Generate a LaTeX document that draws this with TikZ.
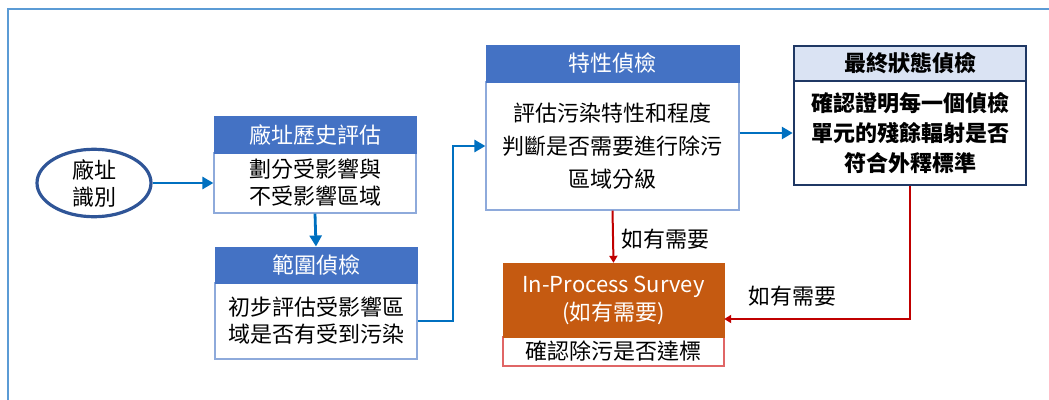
\documentclass[tikz,border=0pt]{standalone}
\usepackage{fontspec}
\setmainfont{Noto Sans CJK TC}
\usetikzlibrary{arrows.meta,shapes.geometric}
\definecolor{hdrblue}{HTML}{4472C4}
\definecolor{bodyblue}{HTML}{8EAADB}
\definecolor{navy}{HTML}{1F3864}
\definecolor{lightnavy}{HTML}{DAE3F3}
\definecolor{arrblue}{HTML}{0070C0}
\definecolor{ellblue}{HTML}{2F5597}
\definecolor{framec}{HTML}{5B9BD5}
\definecolor{darkred}{HTML}{C00000}
\definecolor{orangebrown}{HTML}{C55A11}
\definecolor{lightred}{HTML}{E06666}
\newcommand\fsz{\fontsize{22}{27}\selectfont}
\begin{document}
\begin{tikzpicture}[x=1pt,y=-1pt,
  boxbase/.style={rectangle, inner sep=0pt, align=center, font=\fsz},
  bhead/.style={boxbase, fill=hdrblue, draw=hdrblue, text=white, line width=1pt},
  bbody/.style={boxbase, fill=white, draw=bodyblue, line width=1.2pt},
  bluearrow/.style={draw=arrblue, line width=2.8pt, -{Triangle[length=11pt,width=12pt]}},
  redarrow/.style={draw=darkred, line width=2pt, -{Triangle[length=7pt,width=8pt]}},
  lbl/.style={font=\fsz, inner sep=0pt}
]
\useasboundingbox (0,0) rectangle (1049,399);
\draw[framec, line width=1.5pt] (8,410) -- (8,9) -- (1060,9);

% ellipse
\node[ellipse, draw=ellblue, line width=3.2pt, minimum width=114pt, minimum height=65pt, inner sep=0pt, align=center, font=\fsz] (ell) at (94,183) {廠址\\識別};

% box 1
\node[bbody, minimum width=202pt, minimum height=60pt] (b1body) at (315,183) {劃分受影響與\\不受影響區域};
\node[bhead, minimum width=202pt, minimum height=37pt] (b1head) at (315,134.5) {廠址歷史評估};

% box 2
\node[bbody, minimum width=202pt, minimum height=76pt] (b2body) at (316,321) {初步評估受影響區\\域是否有受到污染};
\node[bhead, minimum width=202pt, minimum height=36pt] (b2head) at (316,265) {範圍偵檢};

% box 3
\node[bbody, minimum width=253pt, minimum height=128pt, font=\fontsize{22}{33}\selectfont] (b3body) at (612.5,146) {評估污染特性和程度\\判斷是否需要進行除污\\區域分級};
\node[bhead, minimum width=253pt, minimum height=37pt] (b3head) at (612.5,63.5) {特性偵檢};

% box 4
\node[boxbase, fill=white, draw=navy, line width=2.5pt, minimum width=232pt, minimum height=104pt, font=\fontsize{22}{30}\selectfont\bfseries] (b4body) at (910,133) {確認證明每一個偵檢\\單元的殘餘輻射是否\\符合外釋標準};
\node[boxbase, fill=lightnavy, draw=navy, line width=2.5pt, minimum width=232pt, minimum height=35pt, font=\fsz\bfseries] (b4head) at (910,63.5) {最終狀態偵檢};

% box 5
\node[boxbase, fill=white, draw=lightred, line width=1.2pt, minimum width=221pt, minimum height=29pt] (b5body) at (613.5,351.5) {確認除污是否達標};
\node[boxbase, fill=orangebrown, draw=orangebrown, text=white, minimum width=221pt, minimum height=74pt, font=\fontsize{22}{28}\selectfont] (b5head) at (613.5,300) {In-Process Survey\\(如有需要)};

% connectors
\draw[bluearrow] (ell.east) -- (b1body.west);
\draw[bluearrow] (b1body.south) -- (b2head.north);
\coordinate (bc) at (453,146);
\draw[bluearrow] (b2body.east) -| (bc) -- (b3body.west);
\draw[bluearrow] (b3body.east |- b4body.west) -- (b4body.west);
\draw[redarrow] (b3body.south) -- (b5head.north);
\coordinate (rc) at (910,319);
\draw[redarrow] (b4body.south) -- (rc) -- (b5head.east |- rc);

% labels
\node[lbl] (l1) at (665,239) {如有需要};
\node[lbl] (l2) at (792,296) {如有需要};
\end{tikzpicture}
\end{document}
